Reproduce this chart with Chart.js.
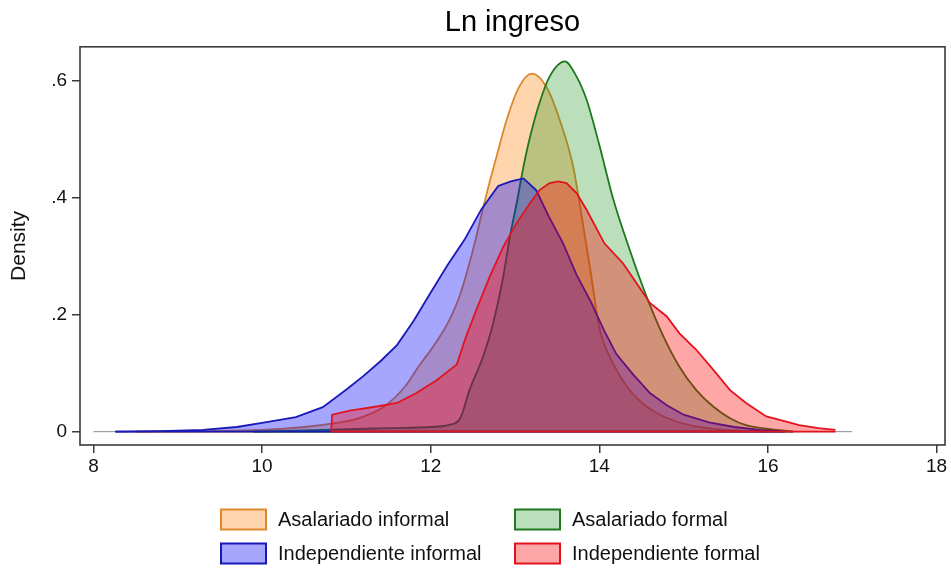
<!DOCTYPE html>
<html>
<head>
<meta charset="utf-8">
<script src="https://cdn.jsdelivr.net/npm/chart.js@4.4.1/dist/chart.umd.min.js"></script>
<style>
  html, body { margin: 0; padding: 0; background: #fff; }
  #wrap { width: 951px; height: 568px; }
</style>
</head>
<body>
<div id="wrap"><canvas id="c" width="951" height="568"></canvas></div>
<script>
// Kernel density of log income by worker group
const chartTitle = 'Ln ingreso';
const yTitle = 'Density';
const seriesLabels = ['Asalariado informal', 'Asalariado formal', 'Independiente informal', 'Independiente formal'];
const xTicks = [8, 10, 12, 14, 16, 18];
const yTicks = [0, 0.2, 0.4, 0.6];

// evaluation range of the density estimates
const rangeX = [8.0, 17.0];

const asalInfX = [8.5, 9.4, 10.0, 10.5, 10.85, 11.15, 11.45, 11.7, 11.85, 12.05, 12.2, 12.35, 12.5, 12.66, 12.78, 12.9, 13.05, 13.2, 13.37, 13.53, 13.69, 13.8, 13.9, 14.0, 14.16, 14.36, 14.56, 14.76, 15.07, 15.5, 16.0];
const asalInfY = [0, 0.001, 0.003, 0.008, 0.014, 0.023, 0.043, 0.078, 0.11, 0.15, 0.185, 0.235, 0.31, 0.405, 0.47, 0.533, 0.59, 0.612, 0.59, 0.533, 0.453, 0.36, 0.27, 0.178, 0.117, 0.071, 0.043, 0.026, 0.011, 0.003, 0];

const asalForX = [9.9, 10.75, 11.5, 12.0, 12.23, 12.35, 12.46, 12.62, 12.74, 12.86, 12.94, 13.02, 13.1, 13.18, 13.29, 13.41, 13.59, 13.73, 13.85, 14.0, 14.16, 14.36, 14.56, 14.76, 14.95, 15.15, 15.35, 15.55, 15.74, 15.98, 16.3];
const asalForY = [0, 0.003, 0.006, 0.008, 0.012, 0.023, 0.071, 0.128, 0.185, 0.265, 0.334, 0.391, 0.453, 0.505, 0.562, 0.607, 0.633, 0.607, 0.567, 0.49, 0.40, 0.311, 0.231, 0.163, 0.111, 0.071, 0.043, 0.023, 0.011, 0.005, 0];

const indInfX = [8.26, 8.8, 9.3, 9.7, 10.0, 10.4, 10.72, 11.0, 11.2, 11.4, 11.6, 11.8, 12.0, 12.2, 12.4, 12.6, 12.8, 12.95, 13.1, 13.25, 13.4, 13.57, 13.73, 13.9, 14.05, 14.2, 14.4, 14.6, 14.8, 15.0, 15.3, 15.6, 15.9, 16.2];
const indInfY = [0, 0.001, 0.003, 0.008, 0.015, 0.025, 0.042, 0.072, 0.095, 0.12, 0.148, 0.19, 0.238, 0.285, 0.328, 0.38, 0.42, 0.428, 0.433, 0.413, 0.368, 0.322, 0.268, 0.222, 0.175, 0.133, 0.098, 0.066, 0.045, 0.029, 0.016, 0.008, 0.003, 0];

const indForX = [10.82, 10.83, 11.04, 11.36, 11.6, 11.83, 12.07, 12.23, 12.31, 12.42, 12.54, 12.7, 12.86, 13.02, 13.18, 13.29, 13.41, 13.51, 13.61, 13.73, 13.85, 14.06, 14.28, 14.44, 14.6, 14.8, 14.95, 15.15, 15.35, 15.55, 15.74, 15.98, 16.14, 16.37, 16.6, 16.8];
const indForY = [0, 0.029, 0.036, 0.043, 0.049, 0.066, 0.088, 0.106, 0.115, 0.163, 0.208, 0.265, 0.316, 0.357, 0.391, 0.413, 0.425, 0.428, 0.425, 0.408, 0.379, 0.322, 0.288, 0.254, 0.22, 0.197, 0.168, 0.14, 0.106, 0.071, 0.049, 0.026, 0.02, 0.011, 0.006, 0.003];

const lineColors = ['rgb(222,135,45)', 'rgb(30,120,30)', 'rgb(25,25,185)', 'rgb(225,20,30)'];
const fillColors = ['rgba(255,150,50,0.40)', 'rgba(30,150,30,0.30)', 'rgba(0,0,255,0.35)', 'rgba(255,0,0,0.35)'];

const FONT = '"Liberation Sans", Arial, Helvetica, sans-serif';

function pts(xs, ys) { return xs.map((x, i) => ({ x: x, y: ys[i] })); }
function baseline(xs) { return [{ x: xs[0], y: 0 }, { x: xs[xs.length - 1], y: 0 }]; }

const seriesX = [asalInfX, asalForX, indInfX, indForX];
const seriesY = [asalInfY, asalForY, indInfY, indForY];
const smooth = [true, true, false, false];

const datasets = [{
  label: 'range',
  data: baseline(rangeX),
  borderColor: 'rgb(140,140,150)',
  borderWidth: 1,
  pointRadius: 0,
  fill: false,
  order: 20
}];
seriesLabels.forEach((lab, i) => {
  datasets.push({
    label: lab,
    data: pts(seriesX[i], seriesY[i]),
    borderColor: lineColors[i],
    backgroundColor: fillColors[i],
    borderWidth: 1.8,
    pointRadius: 0,
    fill: 'origin',
    tension: smooth[i] ? 0.4 : 0,
    cubicInterpolationMode: smooth[i] ? 'monotone' : 'default',
    order: 10 - 2 * i
  });
  datasets.push({
    label: lab + ' base',
    data: baseline(seriesX[i]),
    borderColor: lineColors[i],
    borderWidth: 1.8,
    pointRadius: 0,
    fill: false,
    order: 9 - 2 * i
  });
});

// plot frame around the chart area
const framePlugin = {
  id: 'frame',
  afterDatasetsDraw(chart) {
    const a = chart.chartArea, ctx = chart.ctx;
    ctx.save();
    ctx.strokeStyle = '#3a3a3a';
    ctx.lineWidth = 1.6;
    ctx.strokeRect(a.left, a.top, a.right - a.left, a.bottom - a.top);
    ctx.restore();
  }
};

// two-column legend under the plot
const legendPlugin = {
  id: 'gridLegend',
  afterDraw(chart) {
    const ctx = chart.ctx;
    const cols = [221, 515];
    const rows = [509.5, 543.5];
    const bw = 45, bh = 20;
    ctx.save();
    ctx.font = '20px ' + FONT;
    ctx.textBaseline = 'middle';
    ctx.textAlign = 'left';
    seriesLabels.forEach((lab, i) => {
      const x = cols[i % 2], y = rows[Math.floor(i / 2)];
      ctx.fillStyle = '#fff';
      ctx.fillRect(x, y, bw, bh);
      ctx.fillStyle = fillColors[i];
      ctx.fillRect(x, y, bw, bh);
      ctx.strokeStyle = lineColors[i];
      ctx.lineWidth = 2;
      ctx.strokeRect(x, y, bw, bh);
      ctx.fillStyle = '#111';
      ctx.fillText(lab, x + 57, y + bh / 2 + 1);
    });
    ctx.restore();
  }
};

const yLabel = v => (v === 0 ? '0' : String(Math.round(v * 10) / 10).replace(/^0/, ''));

new Chart(document.getElementById('c'), {
  type: 'line',
  data: { datasets: datasets },
  plugins: [framePlugin, legendPlugin],
  options: {
    responsive: false,
    animation: false,
    devicePixelRatio: 1,
    layout: { padding: { left: 0, right: 6, top: 0, bottom: 0 } },
    plugins: {
      legend: { display: false },
      tooltip: { enabled: false },
      title: {
        display: true,
        fullSize: false,
        text: chartTitle,
        color: '#000',
        font: { family: FONT, size: 29, weight: 'normal' },
        padding: { top: 6, bottom: 6 }
      }
    },
    scales: {
      x: {
        type: 'linear',
        min: 7.84,
        max: 18.1,
        afterBuildTicks(scale) { scale.ticks = xTicks.map(v => ({ value: v })); },
        afterFit(scale) { scale.height = 123; },
        border: { display: false },
        grid: { drawOnChartArea: false, drawTicks: true, tickLength: 8, color: '#3a3a3a', lineWidth: 1.5 },
        ticks: {
          color: '#111',
          font: { family: FONT, size: 19 },
          padding: 2,
          maxRotation: 0,
          callback: v => String(v)
        }
      },
      y: {
        type: 'linear',
        min: -0.0228,
        max: 0.658,
        afterBuildTicks(scale) { scale.ticks = yTicks.map(v => ({ value: v })); },
        afterFit(scale) { scale.width = 80; },
        border: { display: false },
        grid: { drawOnChartArea: false, drawTicks: true, tickLength: 8, color: '#3a3a3a', lineWidth: 1.5 },
        title: {
          display: true,
          text: yTitle,
          color: '#111',
          font: { family: FONT, size: 21 },
          padding: { top: 7, bottom: 0 }
        },
        ticks: {
          color: '#111',
          font: { family: FONT, size: 19 },
          padding: 5,
          callback: v => yLabel(v)
        }
      }
    }
  }
});
</script>
</body>
</html>
